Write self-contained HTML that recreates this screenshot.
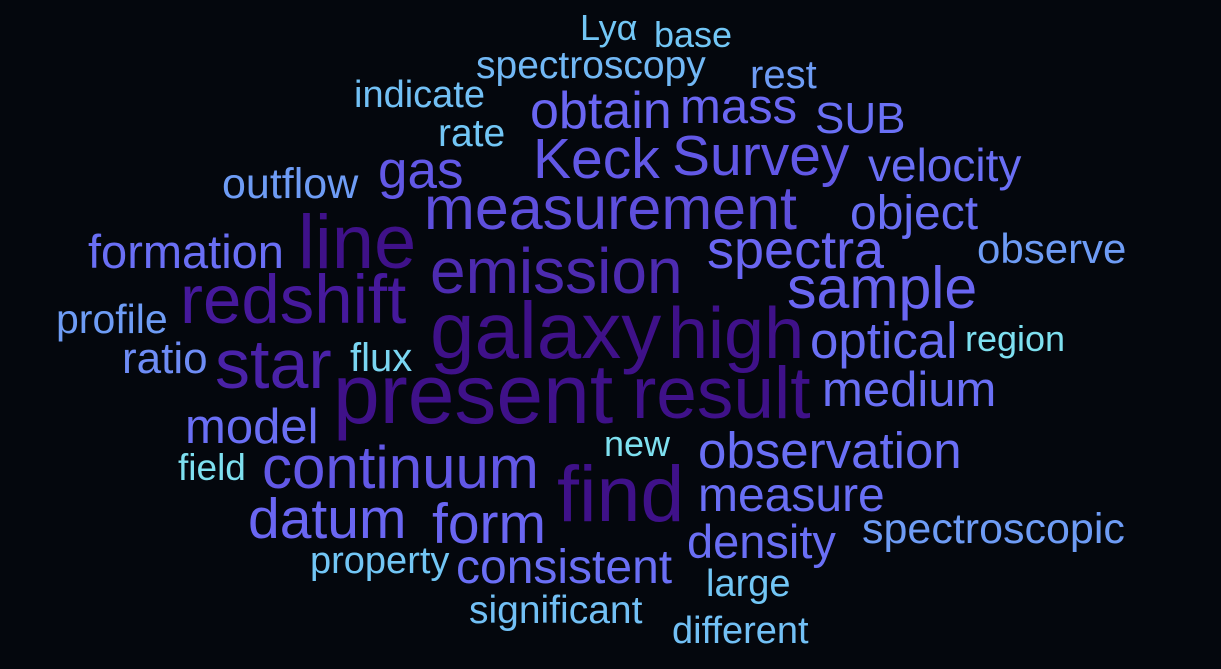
<!DOCTYPE html>
<html><head><meta charset="utf-8">
<style>
html,body{margin:0;padding:0;background:#04070d;}
svg{display:block;}
text{font-family:"Liberation Sans",Arial,sans-serif;}
</style></head>
<body>
<svg id="cloud" width="1221" height="669" viewBox="0 0 1221 669">
<rect width="1221" height="669" fill="#04070d"/>
</svg>
<script>
const words=["Lyα","base","spectroscopy","rest","indicate","obtain","mass","SUB","rate","Keck","Survey","velocity","outflow","gas","measurement","object","line","formation","spectra","observe","emission","redshift","sample","profile","galaxy","high","optical","region","ratio","flux","star","present","result","medium","model","new","observation","field","continuum","find","measure","datum","form","spectroscopic","density","property","consistent","large","significant","different"];
const weights=[36,36,39,40,38,52,49,44,39,57,57,46,43,53,61,48,76,47,54,42,64,69,59,41,80,72,51,36,44,40,70,84,73,49,49,36,51,37,60,79,48,57,57,43,47,38,48,38,39,38];
const xs=[580,654,476,750,354,530,680,815,438,533,672,868,222,378,424,850,298,88,707,977,430,180,787,56,430,668,810,965,122,350,215,333,632,822,185,604,698,178,262,557,698,248,432,862,687,310,456,706,469,672];
const ys=[40,47,78,88,107,128,123,133,146,178,175,181,198,188,229,229,268,268,268,263,293,323,308,333,358,358,358,351,373,371,388,423,418,406,443,456,468,480,488,521,511,538,543,543,558,573,583,596,623,643];
const colors=["#72c6f5","#72c6f5","#72b8f5","#6e9cf5","#72c0f5","#6a66f2","#6a66f2","#6a70f5","#72c6f5","#6258e6","#6258e6","#6a6ff5","#6e9cf5","#6258e6","#5e4fdc","#6a6ff5","#3f1189","#6a6ff5","#6a66f2","#6e9cf5","#4d2bb0","#46199c","#6a66f2","#6e9cf5","#3f1189","#3f1189","#6a6ff5","#7ee0f0","#6e8cf5","#7ad6f2","#4a22a8","#3f1189","#3f1189","#6a6ff5","#6a6ff5","#7ee0f0","#6a6ff5","#7ee0f0","#6258e6","#3f1189","#6a6ff5","#6a66f2","#6a66f2","#6e9cf5","#6a6ff5","#72c6f5","#6a6ff5","#72c6f5","#72c0f5","#72c0f5"];
const svg=document.getElementById('cloud');
const NS="http://www.w3.org/2000/svg";
words.forEach((w,i)=>{
  const t=document.createElementNS(NS,'text');
  t.setAttribute('x',xs[i]);
  t.setAttribute('y',ys[i]);
  t.setAttribute('font-size',weights[i]);
  t.setAttribute('fill',colors[i]);
  t.textContent=w;
  
  
  svg.appendChild(t);
});
</script>
</body></html>
